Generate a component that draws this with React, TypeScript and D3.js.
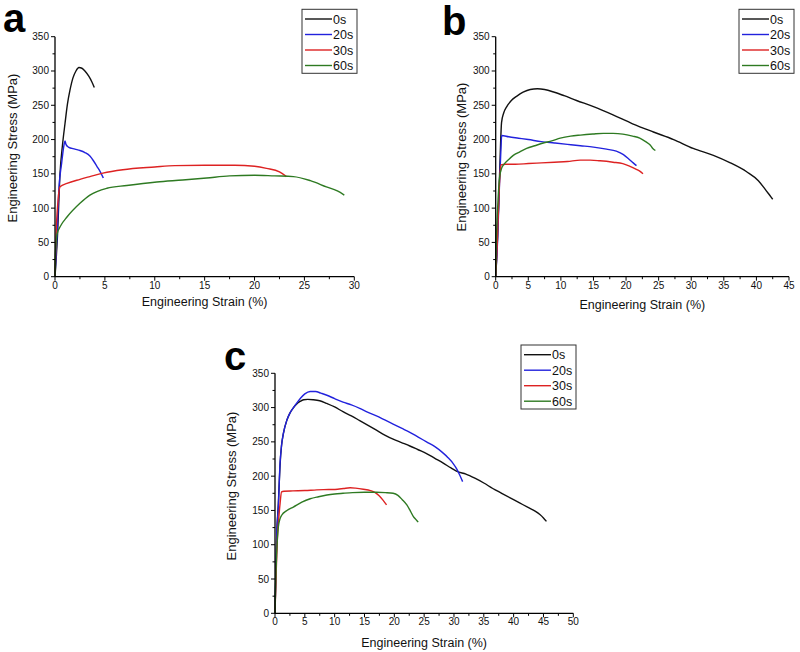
import React from "react";
import * as d3 from "d3";

type Pt = [number, number];

const seriesNames = ["0s", "20s", "30s", "60s"];
const seriesColors = ["#111111", "#2222dd", "#dd2222", "#2e7a22"];

// Panel a
const a0: Pt[] = [[0,0],[0.25,60],[0.5,150],[0.75,192],[1.0,223],[1.25,252],[1.5,272],[1.8,290],[2.1,300],[2.4,305],[2.7,304],[3.0,300],[3.4,292],[3.7,284],[3.94,276]];
const a20: Pt[] = [[0,0],[0.2,60],[0.4,130],[0.67,166],[0.9,192],[1.0,198],[1.1,193],[1.34,189],[2.0,186],[2.5,184],[3.0,181],[3.5,176],[3.9,168],[4.2,161],[4.5,154],[4.84,144]];
const a30: Pt[] = [[0,0],[0.1,58],[0.3,110],[0.5,131],[1.2,136],[2.5,142],[3.5,146],[4.8,151],[6.8,156],[10,160],[12,162],[15,162.5],[18,162.5],[20,161],[21.2,158],[22.5,153],[23.2,146]];
const a60: Pt[] = [[0,0],[0.05,35],[0.2,62],[0.6,75],[1.2,87],[2.5,107],[3.5,119],[5.2,129],[7.2,133],[10.2,138],[12.8,141],[15.2,144],[17.5,147],[20,148],[22,147],[23.9,146],[25.6,140],[27.2,131],[28.3,125],[29,119]];

// Panel b
const b0: Pt[] = [[0,0],[0.3,60],[0.6,150],[0.9,225],[1.2,238],[1.7,248],[2.4,257],[3.2,263],[4.2,269],[5.3,273],[6.4,274],[7.5,273],[9,269],[10.5,264],[12.4,257],[15,248],[18,236],[21,223],[24.2,211],[27.3,200],[30.3,187],[33.4,177],[36,166],[38.5,153],[40.3,140],[41.3,128],[42.1,118],[42.5,113]];
const b20: Pt[] = [[0,0],[0.3,55],[0.6,140],[0.8,185],[0.92,206],[2,204],[3.5,202],[5,200],[7,197],[9,195],[11,193],[13,191],[15,189],[17,186],[18.5,183],[19.6,178],[20.5,171],[21.1,166],[21.6,162]];
const b30: Pt[] = [[0,0],[0.2,40],[0.4,92],[0.6,140],[0.8,163],[1.5,164],[3,164],[5,165],[7,166],[9,167],[11,168],[13,170],[14.5,170],[16,169],[18,167],[19.5,165],[20.6,161],[21.5,157],[22.1,154],[22.6,150]];
const b60: Pt[] = [[0,0],[0.1,50],[0.3,100],[0.6,145],[0.9,158],[1.2,163],[2,171],[2.7,177],[3.7,182],[4.75,187],[6,191],[7.3,195],[8.6,198],[9.9,202],[11.5,205],[13,206.5],[14.9,208],[16.5,209],[18,209],[19.5,208],[21,205],[22.1,202],[23,197],[23.7,192],[24.1,187],[24.5,184]];

// Panel c
const c0: Pt[] = [[0,0],[0.15,60],[0.3,115],[0.56,160],[0.84,215],[1.1,245],[1.4,262],[2,282],[2.5,292],[3.1,300],[3.6,305],[4.2,309],[4.8,311.5],[5.5,312],[6.4,311.5],[7.5,310],[8.7,306],[10,301],[11.4,294],[12.8,288],[14.2,281],[15.6,274],[17,267],[18.4,260],[19.8,254],[21.2,249],[22.6,244],[24,238.5],[25.4,233],[26.8,226],[28.2,219],[29.5,212],[30.5,207],[32,203],[33.5,197],[35,190],[36.5,182],[38,175],[39.5,168],[41,161],[42.5,154],[43.6,149],[44.4,144],[45,139],[45.5,134]];
const c20: Pt[] = [[0,0],[0.15,60],[0.28,112],[0.56,155],[0.84,218],[1.1,245],[1.4,262],[2,282],[2.5,292],[3.1,300],[3.6,306],[4.3,314],[5,320],[5.9,323.5],[6.8,323.5],[7.7,321],[8.7,318],[10,313],[11.4,308],[12.8,304],[14.2,299],[15.6,293],[17,288],[18.4,282],[19.8,276],[21.2,270],[22.6,264],[24,257],[25.4,250],[26.8,243],[28,235],[29,227],[29.9,218],[30.5,210],[31,201],[31.45,192]];
const c30: Pt[] = [[0,0],[0.2,60],[0.4,110],[0.6,135],[0.85,160],[1.1,177],[1.5,178],[3,178.5],[5,179],[7,180],[9,180.5],[10.5,181],[11.5,182],[12.6,183],[13.5,182.5],[14.8,181],[16,179],[16.8,176],[17.5,171],[18.1,165],[18.7,158]];
const c60: Pt[] = [[0,0],[0.1,40],[0.28,88],[0.56,126],[0.85,138],[1.12,143],[2,150],[3.07,155],[4.5,162],[5.9,167],[7.3,170],[8.7,172.5],[10,174],[11.4,175],[13,176],[15,176.5],[17,176.5],[18.5,176],[19.8,175],[20.6,172],[21.3,166],[22.1,158],[22.7,149],[23.2,141],[23.6,137],[24,133]];

const yTicks = [0, 50, 100, 150, 200, 250, 300, 350];
const yMinorTicks = [25, 75, 125, 175, 225, 275, 325];
const xTicksA = [0, 5, 10, 15, 20, 25, 30];
const xTicksB = [0, 5, 10, 15, 20, 25, 30, 35, 40, 45];
const xTicksC = [0, 5, 10, 15, 20, 25, 30, 35, 40, 45, 50];

const FONT = "Arial, 'Liberation Sans', sans-serif";

interface PanelProps {
  letter: string;
  letterX: number;
  letterY: number;
  xPx: [number, number];
  yPx: [number, number];
  xMax: number;
  xTicks: number[];
  data: Pt[][];
  legendX: number;
  legendY: number;
  yTitleX: number;
  yTitleY: number;
  xTitleY: number;
}

function Panel(p: PanelProps) {
  const x = d3.scaleLinear().domain([0, p.xMax]).range(p.xPx);
  const y = d3.scaleLinear().domain([0, 350]).range(p.yPx);
  const line = d3
    .line<Pt>()
    .x((d) => x(d[0]))
    .y((d) => y(d[1]))
    .curve(d3.curveMonotoneX);
  const x0 = p.xPx[0];
  const y0 = p.yPx[0];
  const xMinor = p.xTicks.slice(0, -1).map((t) => t + 2.5);
  const rowOff = [9.7, 25.2, 40.7, 56.2];
  return (
    <g>
      <text x={p.letterX} y={p.letterY} fontSize={40} fontWeight="bold" fontFamily={FONT} fill="#000">
        {p.letter}
      </text>
      {p.data.map((s, i) => (
        <path key={i} d={line(s) || ""} fill="none" stroke={seriesColors[i]} strokeWidth={1.4} />
      ))}
      <line x1={x0} x2={x0} y1={y(0)} y2={y(350)} stroke="#000" strokeWidth={1.3} />
      <line x1={x0} x2={x(p.xMax)} y1={y0} y2={y0} stroke="#000" strokeWidth={1.3} />
      {yTicks.map((t) => (
        <g key={"y" + t}>
          <line x1={x0 - 4} x2={x0} y1={y(t)} y2={y(t)} stroke="#000" strokeWidth={1} />
          <text x={x0 - 6} y={y(t) + 3.5} fontSize={10} textAnchor="end" fontFamily={FONT} fill="#111">
            {t}
          </text>
        </g>
      ))}
      {yMinorTicks.map((t) => (
        <line key={"ym" + t} x1={x0 - 2.5} x2={x0} y1={y(t)} y2={y(t)} stroke="#000" strokeWidth={1} />
      ))}
      {p.xTicks.map((t) => (
        <g key={"x" + t}>
          <line x1={x(t)} x2={x(t)} y1={y0} y2={y0 + 4} stroke="#000" strokeWidth={1} />
          <text x={x(t)} y={y0 + 12} fontSize={10} textAnchor="middle" fontFamily={FONT} fill="#111">
            {t}
          </text>
        </g>
      ))}
      {xMinor.map((t) => (
        <line key={"xm" + t} x1={x(t)} x2={x(t)} y1={y0} y2={y0 + 2.5} stroke="#000" strokeWidth={1} />
      ))}
      <text
        x={(p.xPx[0] + p.xPx[1]) / 2}
        y={p.xTitleY}
        fontSize={12.5}
        textAnchor="middle"
        fontFamily={FONT}
        fill="#111"
      >
        Engineering Strain (%)
      </text>
      <text
        transform={`translate(${p.yTitleX},${p.yTitleY}) rotate(-90)`}
        fontSize={13}
        textAnchor="middle"
        fontFamily={FONT}
        fill="#111"
      >
        Engineering Stress (MPa)
      </text>
      <rect x={p.legendX} y={p.legendY} width={55} height={64} fill="#fff" stroke="#333" strokeWidth={1} />
      {seriesNames.map((n, i) => (
        <g key={n}>
          <line
            x1={p.legendX + 3}
            x2={p.legendX + 30}
            y1={p.legendY + rowOff[i]}
            y2={p.legendY + rowOff[i]}
            stroke={seriesColors[i]}
            strokeWidth={1.4}
          />
          <text x={p.legendX + 31} y={p.legendY + rowOff[i] + 4.5} fontSize={12.5} fontFamily={FONT} fill="#111">
            {n}
          </text>
        </g>
      ))}
    </g>
  );
}

export default function App() {
  return (
    <svg
      width={800}
      height={652}
      style={{ position: "absolute", left: 0, top: 0, background: "#fff" }}
    >
      <rect width={800} height={652} fill="#fff" />
      <Panel
        letter="a"
        letterX={3}
        letterY={32}
        xPx={[55, 354.3]}
        yPx={[276.7, 36.7]}
        xMax={30}
        xTicks={xTicksA}
        data={[a0, a20, a30, a60]}
        legendX={302}
        legendY={9.3}
        yTitleX={17}
        yTitleY={148}
        xTitleY={306}
      />
      <Panel
        letter="b"
        letterX={442}
        letterY={35}
        xPx={[495.7, 789]}
        yPx={[276.7, 36.7]}
        xMax={45}
        xTicks={xTicksB}
        data={[b0, b20, b30, b60]}
        legendX={739}
        legendY={9.3}
        yTitleX={466}
        yTitleY={157}
        xTitleY={309}
      />
      <Panel
        letter="c"
        letterX={224}
        letterY={370}
        xPx={[275, 573.3]}
        yPx={[613.3, 373.3]}
        xMax={50}
        xTicks={xTicksC}
        data={[c0, c20, c30, c60]}
        legendX={521}
        legendY={345}
        yTitleX={236}
        yTitleY={486}
        xTitleY={647}
      />
    </svg>
  );
}
